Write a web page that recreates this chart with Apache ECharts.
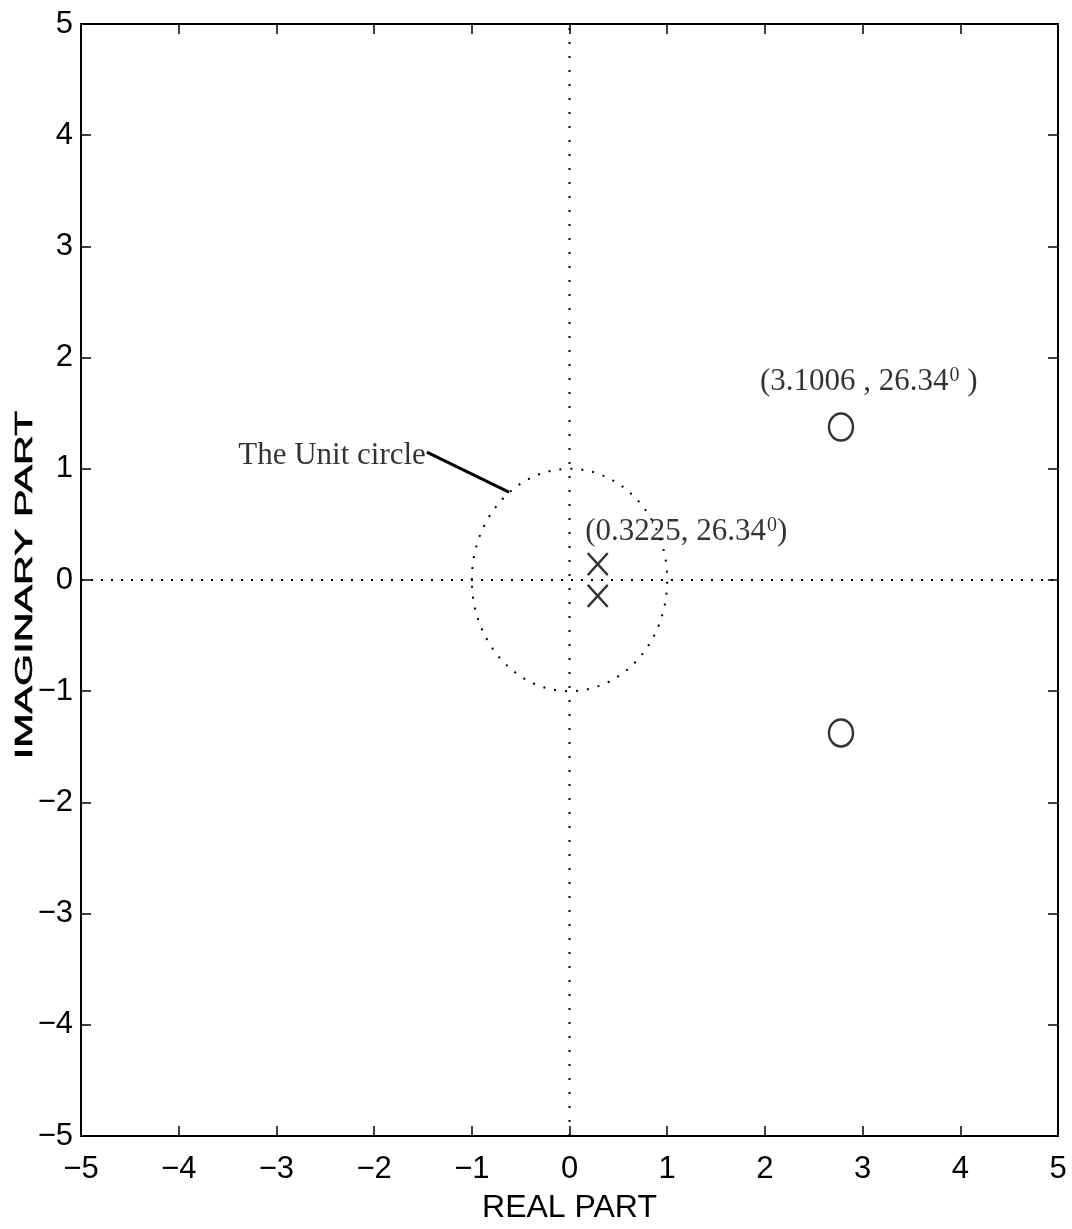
<!DOCTYPE html>
<html>
<head>
<meta charset="utf-8">
<script src="https://cdn.jsdelivr.net/npm/echarts@6/dist/echarts.min.js"></script>
<style>
  html, body { margin: 0; padding: 0; background: #fff; }
  #chart { width: 1072px; height: 1229px; }
</style>
</head>
<body>
<div id="chart"></div>
<script>
// Axis ranges and ticks
const axisMin = -5;
const axisMax = 5;
const axisStep = 1;

// Pole / zero pair, polar form (magnitude, angle in degrees)
const poleMag = 0.3225;
const zeroMag = 3.1006;
const pairAngleDeg = 26.34;

// Unit circle
const unitCircleCenter = [0, 0];
const unitCircleRadius = 1;

// Leader line from the "The Unit circle" note to the circle
const leaderLine = [[-1.46, 1.15], [-0.62, 0.79]];

// Text anchors (data coordinates)
const unitNoteAnchor = [-1.47, 1.12];
const poleNoteAnchor = [0.16, 0.43];
const zeroNoteAnchor = [1.95, 1.78];

// Conjugate pairs from polar form
function conjPair(mag, deg) {
  const a = deg * Math.PI / 180;
  const re = mag * Math.cos(a), im = mag * Math.sin(a);
  return [[re, im], [re, -im]];
}
const poles = conjPair(poleMag, pairAngleDeg);
const zeros = conjPair(zeroMag, pairAngleDeg);

const sansNarrow = "'Liberation Sans Narrow', 'Liberation Sans', Arial, sans-serif";
const sans = "'Liberation Sans', Arial, sans-serif";
const serif = "'Liberation Serif', 'Times New Roman', serif";

const minusFmt = v => String(v).replace('-', '\u2212');

const tickCommon = {
  min: axisMin, max: axisMax, interval: axisStep,
  splitLine: { show: false },
  axisLine: { show: true, onZero: false, lineStyle: { color: '#000', width: 2 } },
  axisTick: { show: true, inside: true, length: 10, lineStyle: { color: '#000', width: 1.5 } }
};

const noteRich = {
  t: { fontFamily: serif, fontSize: 31, color: '#000' },
  sup: { fontFamily: serif, fontSize: 20, color: '#000', verticalAlign: 'bottom', padding: [0, 0, 13, 1] }
};

const chart = echarts.init(document.getElementById('chart'), null, { renderer: 'canvas' });

chart.setOption({
  animation: false,
  backgroundColor: '#fff',
  grid: { left: 81, right: 14, top: 24, bottom: 91, containLabel: false },
  xAxis: [
    Object.assign({}, tickCommon, {
      type: 'value', position: 'bottom',
      name: 'REAL PART', nameLocation: 'middle', nameGap: 56,
      nameTextStyle: { fontFamily: sans, fontSize: 32, color: '#000', verticalAlign: 'top' },
      axisLabel: { margin: 18, color: '#000', fontFamily: sansNarrow, fontSize: 31, formatter: minusFmt }
    }),
    Object.assign({}, tickCommon, {
      type: 'value', position: 'top', axisLabel: { show: false }
    })
  ],
  yAxis: [
    Object.assign({}, tickCommon, {
      type: 'value', position: 'left',
      axisLabel: { margin: 8, color: '#000', fontFamily: sansNarrow, fontSize: 31, formatter: minusFmt }
    }),
    Object.assign({}, tickCommon, {
      type: 'value', position: 'right', axisLabel: { show: false }
    })
  ],
  graphic: [{
    type: 'text',
    x: 25, y: 585,
    rotation: Math.PI / 2,
    scaleX: 1.72, scaleY: 1,
    style: {
      text: 'IMAGINARY PART',
      font: "24px 'Liberation Sans', Arial, sans-serif",
      fill: '#000',
      stroke: '#000',
      lineWidth: 0.6,
      textAlign: 'center',
      textVerticalAlign: 'middle'
    }
  }],
  series: [
    {
      // real axis (dotted)
      type: 'line', silent: true, symbol: 'none',
      data: [[axisMin, 0], [axisMax, 0]],
      lineStyle: { color: '#000', width: 2, type: [2, 8] }
    },
    {
      // imaginary axis (dotted)
      type: 'line', silent: true, symbol: 'none',
      data: [[0, axisMin], [0, axisMax]],
      lineStyle: { color: '#000', width: 2, type: [2, 12] }
    },
    {
      // unit circle
      type: 'custom', silent: true,
      data: [[unitCircleCenter[0], unitCircleCenter[1], unitCircleRadius]],
      renderItem: function (params, api) {
        const c = api.coord([api.value(0), api.value(1)]);
        const s = api.size([api.value(2), api.value(2)]);
        return {
          type: 'ellipse',
          shape: { cx: c[0], cy: c[1], rx: s[0], ry: s[1] },
          style: { fill: 'none', stroke: '#000', lineWidth: 2, lineDash: [2, 9] }
        };
      }
    },
    {
      // leader line
      type: 'line', silent: true, symbol: 'none',
      data: leaderLine,
      lineStyle: { color: '#000', width: 3 }
    },
    {
      // poles
      type: 'scatter', silent: true,
      data: poles,
      symbol: 'path://M0,0L20,22M20,0L0,22',
      symbolSize: [20, 22],
      itemStyle: { color: 'none', borderColor: '#000', borderWidth: 2.5 }
    },
    {
      // zeros
      type: 'scatter', silent: true,
      data: zeros,
      symbol: 'circle',
      symbolSize: [24, 27],
      itemStyle: { color: 'rgba(0,0,0,0)', borderColor: '#000', borderWidth: 2.5 }
    },
    {
      // annotations
      type: 'scatter', silent: true,
      symbolSize: 0,
      data: [
        { value: unitNoteAnchor, label: { position: 'left', distance: 0, formatter: '{t|The Unit circle}' } },
        { value: poleNoteAnchor, label: { position: 'right', distance: 0, formatter: '{t|(' + poleMag + ', ' + pairAngleDeg + '}{sup|0}{t|)}' } },
        { value: zeroNoteAnchor, label: { position: 'right', distance: 0, formatter: '{t|(' + zeroMag + ' , ' + pairAngleDeg + '}{sup|0}{t| )}' } }
      ],
      label: { show: true, rich: noteRich }
    }
  ]
});
</script>
</body>
</html>
